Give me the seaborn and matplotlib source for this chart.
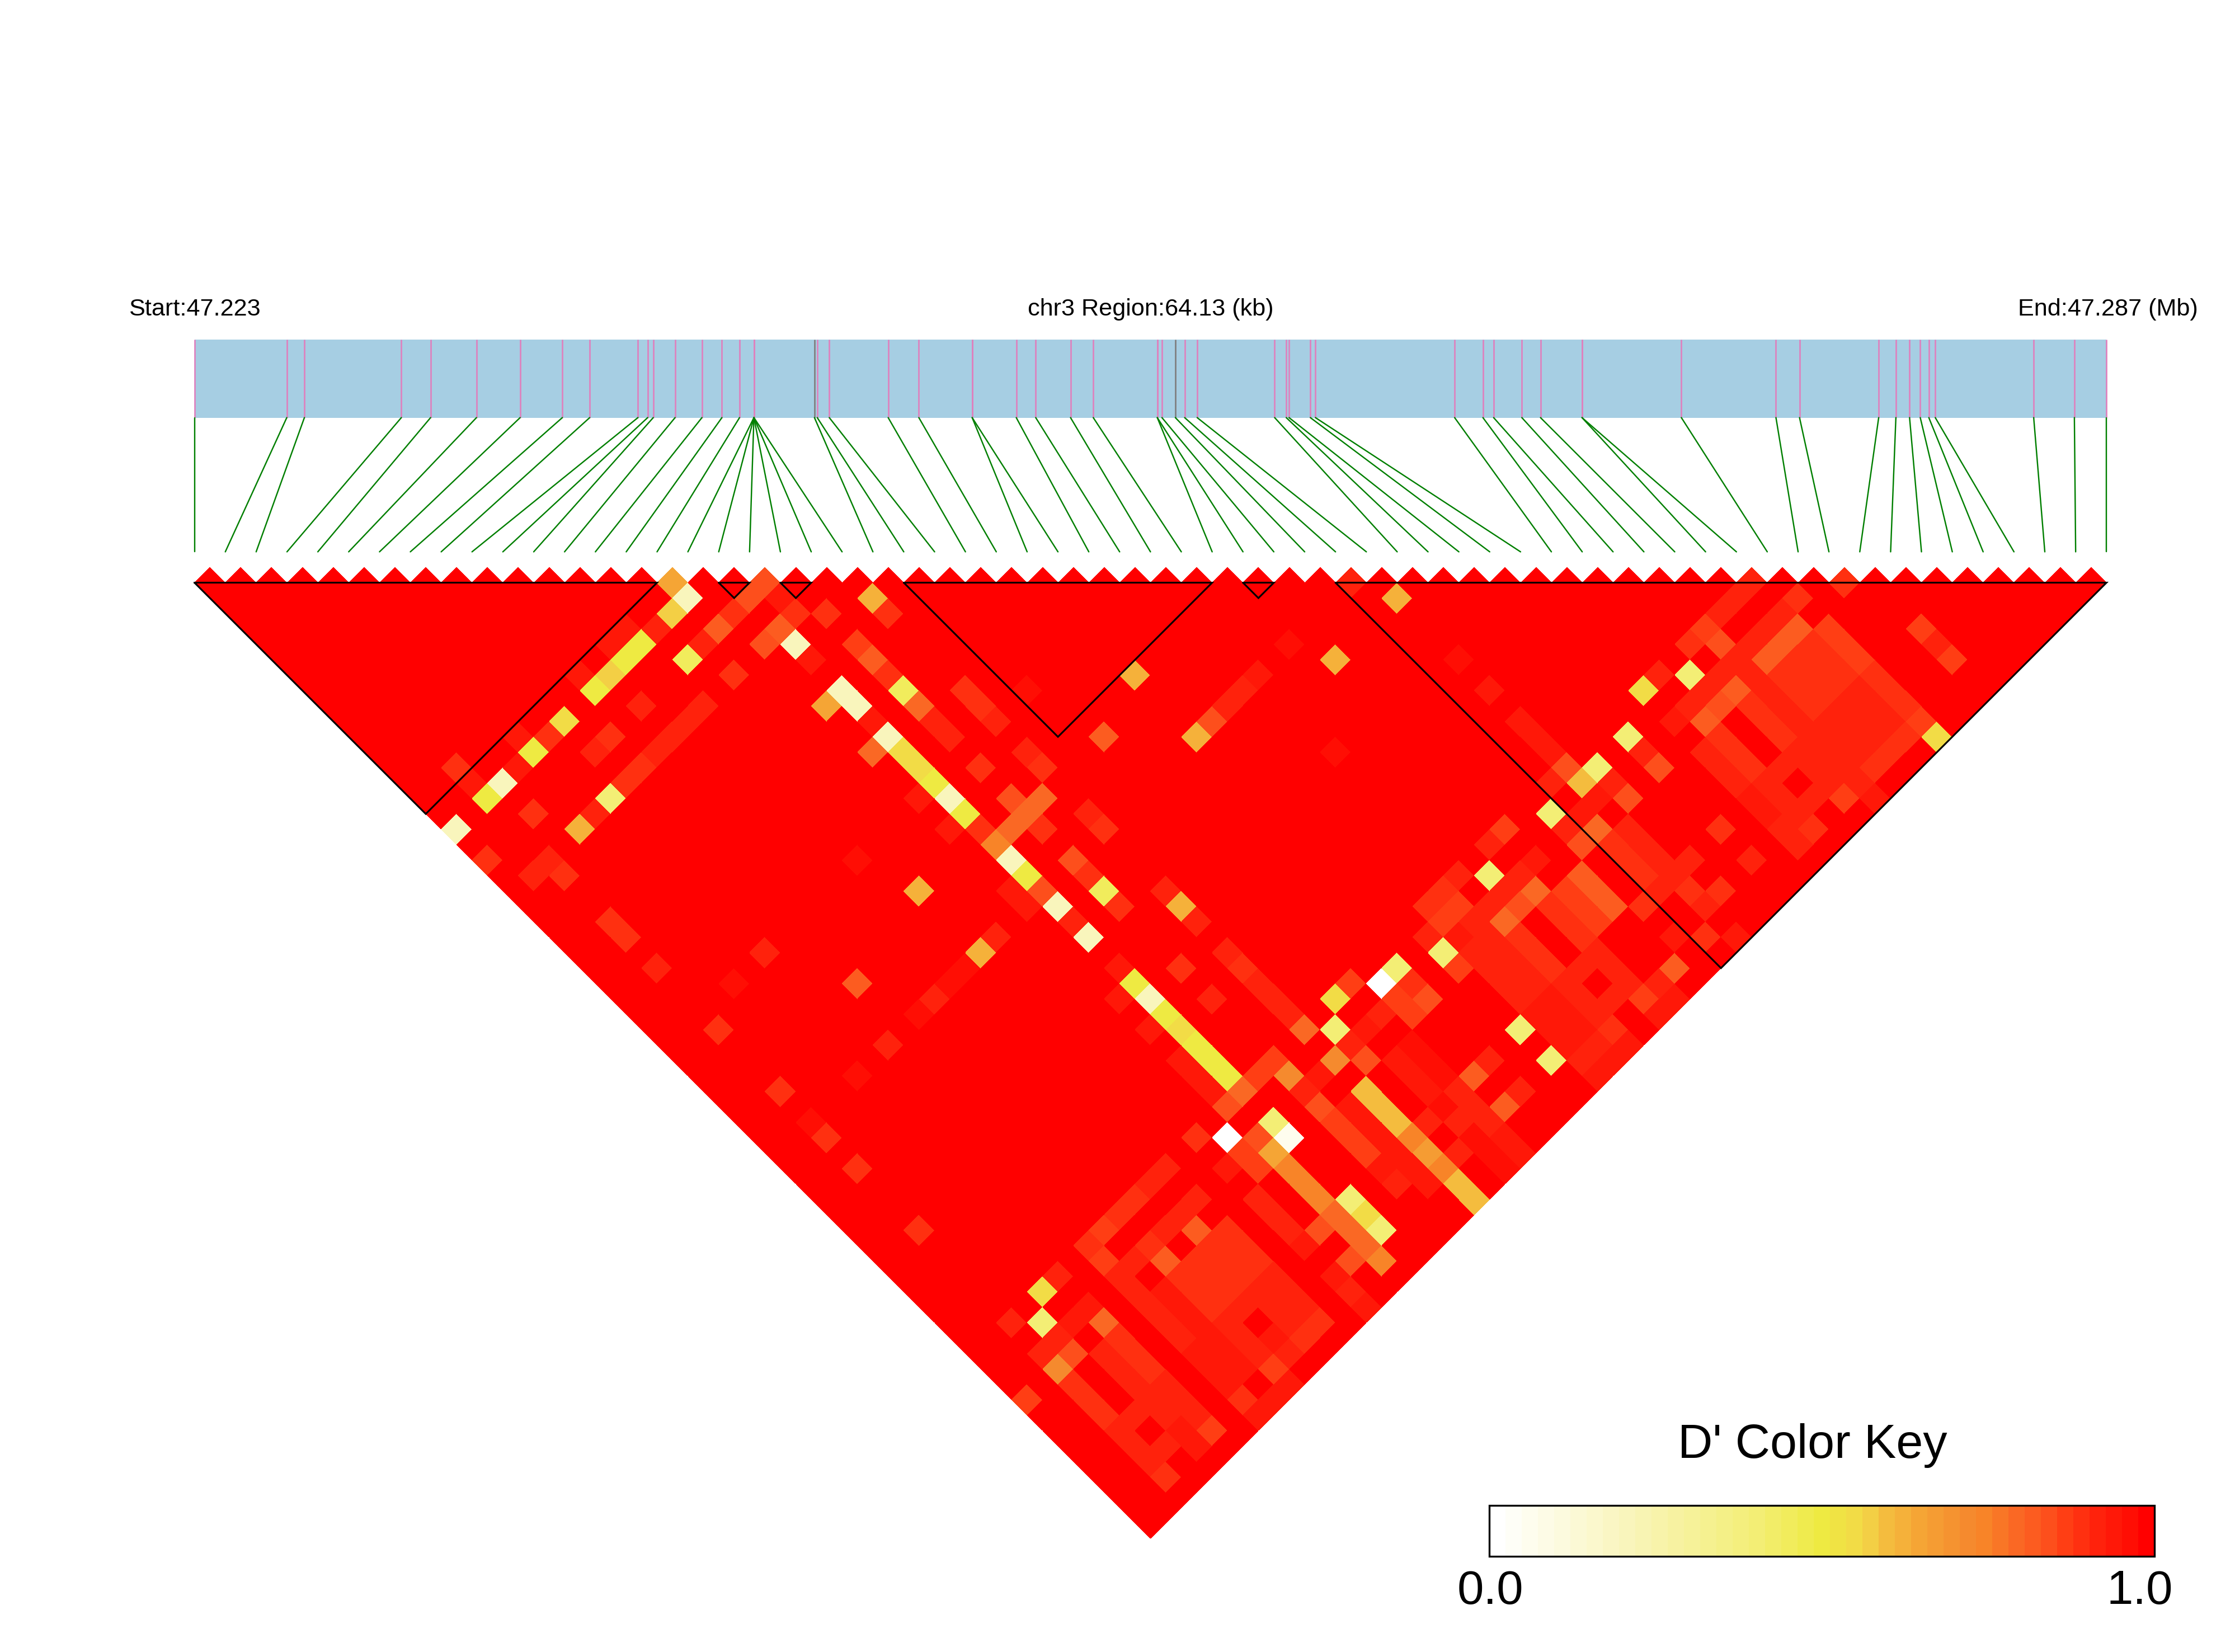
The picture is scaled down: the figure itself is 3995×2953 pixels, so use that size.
import numpy as np
import matplotlib
matplotlib.use('Agg')
import matplotlib.pyplot as plt
import seaborn as sns
from matplotlib.colors import LinearSegmentedColormap
from matplotlib.patches import Rectangle
from matplotlib.transforms import Affine2D

# SNP positions along the region, in kb from the start
snp_kb = [0, 3.096, 3.687, 6.939, 7.920, 9.459, 10.923, 12.339, 13.257, 14.874, 15.201,
          15.388, 16.120, 17.021, 17.691, 18.282, 18.764, 18.764, 18.764, 18.764, 18.764,
          18.764, 20.794, 20.888, 21.292, 23.267, 24.296, 26.084, 26.084, 27.563, 28.216,
          29.383, 30.146, 32.293, 32.293, 32.449, 32.899, 33.211, 33.631, 36.230, 36.618,
          36.712, 37.427, 37.597, 42.266, 43.215, 43.574, 44.521, 45.146, 46.538, 46.538,
          49.871, 53.044, 53.834, 56.489, 57.066, 57.525, 57.884, 58.171, 58.387, 61.688,
          63.053, 64.13]
region_kb = 64.13
grey_snps = [22, 36]

# LD blocks, first and last SNP
block_start = [0, 17, 19, 23, 34, 37]
block_end = [15, 18, 20, 33, 35, 62]

# D' values below 1, as (snp i, snp j)
dp_00 = [(25, 52), (15, 52)]
dp_06 = [(17, 54)]
dp_21 = [(15, 17), (17, 22), (17, 25), (17, 26), (17, 28), (17, 32), (3, 17), (0, 17), (17, 36),
         (17, 39), (17, 41), (17, 45)]
dp_40 = [(6, 21), (26, 52), (22, 52), (17, 53), (17, 58), (17, 60), (45, 52), (39, 52), (41, 52),
         (36, 52), (32, 52), (28, 53), (28, 58), (28, 60), (3, 52)]
dp_45 = [(13, 19), (19, 27), (19, 40)]
dp_50 = [(12, 17), (11, 17), (9, 17), (17, 31), (5, 17), (2, 17), (17, 33), (17, 37), (17, 44),
         (17, 46), (17, 48), (17, 49), (17, 50)]
dp_55 = [(17, 29), (17, 30), (7, 17), (17, 47), (23, 51), (17, 59), (43, 51), (51, 62), (4, 51)]
dp_57 = [(14, 17), (10, 17)]
dp_60 = [(21, 55), (21, 56), (21, 57), (21, 61), (21, 62), (38, 52)]
dp_62 = [(21, 23), (4, 21), (13, 34), (27, 34), (27, 38), (34, 40), (38, 40), (21, 43), (13, 38)]
dp_65 = [(15, 16), (16, 25), (16, 54)]
dp_67 = [(21, 59)]
dp_72 = [(21, 53), (19, 52), (2, 54)]
dp_75 = [(17, 35), (16, 55), (16, 56), (16, 57), (16, 61), (21, 58), (21, 60)]
dp_79 = [(19, 28), (16, 28), (20, 35), (19, 35), (18, 35), (17, 51), (21, 51), (16, 58), (16, 59),
         (37, 54), (33, 54), (31, 54), (5, 54), (16, 60)]
dp_82 = [(15, 19), (17, 21), (19, 25), (24, 35), (8, 35), (11, 54), (9, 54), (50, 54), (49, 54),
         (48, 54), (46, 54), (44, 54), (35, 55), (35, 56), (35, 57), (35, 61), (25, 58), (25, 60)]
dp_84 = [(18, 19), (17, 19), (16, 21), (28, 38), (19, 34), (17, 38), (19, 38), (16, 51), (19, 54),
         (16, 53), (15, 58), (47, 52), (45, 54), (38, 51), (39, 54), (41, 54), (36, 54), (32, 54),
         (26, 54), (15, 60), (3, 54), (22, 54)]
dp_87 = [(19, 24), (24, 51), (19, 51), (18, 51), (19, 55), (19, 56), (19, 57), (15, 53),
         (15, 54), (8, 51), (47, 51), (51, 55), (51, 56), (51, 57), (51, 61), (54, 58), (54, 60),
         (46, 61), (34, 51), (30, 52), (34, 55), (34, 56), (34, 57), (29, 52), (28, 54), (33, 61),
         (25, 53), (25, 54), (7, 52), (9, 61), (5, 61), (0, 54)]
dp_89 = [(6, 17), (16, 19), (18, 21), (19, 22), (14, 21), (21, 24), (19, 26), (2, 15), (0, 19),
         (3, 19), (2, 22), (7, 21), (8, 21), (8, 19), (21, 29), (21, 30), (17, 34), (19, 32),
         (21, 34), (19, 36), (21, 38), (19, 39), (19, 41), (2, 41), (19, 45), (21, 47), (14, 51),
         (10, 51), (9, 51), (2, 45), (46, 51), (51, 53), (53, 54), (50, 55), (49, 55), (50, 56),
         (48, 55), (49, 56), (50, 57), (48, 56), (49, 57), (48, 57), (51, 58), (51, 59), (51, 60),
         (50, 61), (49, 61), (48, 61), (44, 61), (44, 55), (44, 56), (44, 57), (46, 55), (46, 56),
         (46, 57), (37, 55), (37, 56), (37, 57), (41, 58), (38, 59), (39, 60), (30, 51), (29, 51),
         (33, 55), (33, 56), (33, 57), (31, 55), (31, 56), (31, 57), (36, 58), (37, 61), (31, 61),
         (26, 53), (7, 51), (9, 53), (12, 55), (12, 56), (12, 57), (11, 55), (11, 56), (11, 57),
         (9, 55), (9, 56), (9, 57), (10, 55), (10, 56), (10, 57), (11, 61), (12, 61), (7, 61),
         (5, 55), (5, 56), (5, 57), (2, 55), (2, 56), (2, 57), (2, 61), (2, 25), (2, 26), (2, 32),
         (2, 36), (2, 39)]
dp_92 = [(13, 17), (14, 19), (19, 29), (19, 30), (1, 21), (2, 21), (5, 21), (9, 21), (10, 21),
         (11, 21), (12, 21), (7, 19), (10, 19), (21, 31), (29, 38), (30, 38), (37, 38), (21, 33),
         (21, 37), (21, 42), (17, 40), (21, 44), (14, 38), (10, 38), (7, 38), (19, 47), (21, 46),
         (21, 48), (21, 49), (21, 50), (22, 53), (24, 53), (19, 53), (12, 51), (11, 51), (12, 53),
         (11, 53), (10, 53), (14, 55), (14, 56), (14, 57), (19, 59), (50, 51), (49, 51),
         (48, 51), (44, 51), (50, 53), (49, 53), (48, 53), (47, 53), (46, 53), (45, 53), (44, 53),
         (50, 58), (49, 58), (50, 59), (48, 58), (49, 59), (50, 60), (48, 59), (49, 60), (48, 60),
         (54, 59), (46, 58), (45, 58), (46, 59), (44, 58), (46, 60), (44, 59), (45, 60), (44, 60),
         (47, 58), (47, 59), (47, 60), (47, 61), (43, 61), (43, 60), (43, 55), (43, 56), (43, 57),
         (47, 55), (47, 56), (47, 57), (47, 54), (37, 51), (39, 53), (41, 53), (36, 53), (38, 55),
         (38, 56), (38, 57), (39, 58), (38, 58), (37, 58), (41, 60), (38, 60), (33, 51), (31, 51),
         (33, 53), (32, 53), (31, 53), (28, 52), (30, 53), (30, 54), (30, 55), (30, 56), (30, 57),
         (29, 54), (29, 55), (29, 56), (29, 57), (33, 58), (32, 58), (33, 59), (31, 58), (33, 60),
         (31, 59), (32, 60), (31, 60), (34, 61), (30, 61), (29, 61), (26, 58), (26, 60), (24, 58),
         (24, 59), (24, 60), (23, 59), (22, 58), (22, 60), (8, 53), (7, 53), (7, 54), (7, 55),
         (7, 56), (7, 57), (10, 58), (9, 58), (9, 59), (9, 60), (10, 61), (12, 58), (12, 59),
         (12, 60), (11, 58), (11, 59), (11, 60), (14, 61), (5, 51), (2, 51), (2, 53), (3, 53),
         (4, 55), (4, 56), (4, 57), (4, 58), (3, 58), (4, 59), (2, 58), (2, 59), (3, 60), (2, 60),
         (5, 58), (5, 59), (5, 60), (2, 28), (6, 31)]
dp_94 = [(12, 16), (11, 16), (9, 16), (18, 20), (17, 23), (17, 27), (16, 31), (16, 33), (5, 16),
         (4, 17), (2, 16), (31, 38), (16, 37), (16, 38), (17, 43), (16, 44), (16, 46), (16, 48),
         (16, 49), (16, 50), (23, 53), (20, 53), (14, 53), (20, 55), (20, 56), (20, 57), (20, 58),
         (20, 59), (20, 60), (19, 58), (43, 53), (47, 62), (43, 58), (43, 59), (38, 46), (38, 48),
         (38, 49), (38, 50), (38, 53), (37, 53), (34, 53), (29, 53), (29, 58), (29, 59), (29, 60),
         (30, 58), (30, 59), (30, 60), (36, 60), (38, 62), (34, 62), (33, 62), (31, 62), (30, 62),
         (29, 62), (23, 55), (23, 56), (23, 57), (24, 61), (24, 62), (8, 55), (8, 56), (8, 57),
         (10, 60), (8, 58), (8, 59), (8, 60), (7, 58), (7, 59), (7, 60), (9, 62), (8, 62), (7, 62),
         (14, 58), (14, 60), (14, 62), (4, 53), (5, 53), (4, 60), (4, 61)]
dp_96 = [(12, 31), (23, 31), (33, 38), (31, 43), (12, 38), (11, 38), (9, 38), (5, 38), (38, 44),
         (23, 58), (23, 60), (23, 61), (23, 62), (24, 55), (24, 56), (24, 57), (4, 31), (2, 38)]

levels = [0.0, 0.06, 0.21, 0.40, 0.45, 0.50, 0.55, 0.57, 0.60, 0.62, 0.65, 0.67, 0.72, 0.75,
          0.79, 0.82, 0.84, 0.87, 0.89, 0.92, 0.94, 0.96]
level_pairs = [dp_00, dp_06, dp_21, dp_40, dp_45, dp_50, dp_55, dp_57, dp_60, dp_62, dp_65, dp_67,
               dp_72, dp_75, dp_79, dp_82, dp_84, dp_87, dp_89, dp_92, dp_94, dp_96]

# colour key, same look as the original LD plot
key_colors = [(0.0, '#FFFFFF'), (0.2, '#F9F5BC'), (0.4, '#F3EE75'), (0.5, '#EEEA42'),
              (0.55, '#F2DC46'), (0.575, '#F3CF45'), (0.6, '#F4BC3E'), (0.65, '#F5A535'),
              (0.725, '#F58A2E'), (0.75, '#F88428'), (0.8, '#FA6824'), (0.85, '#FD4F1C'),
              (0.875, '#FF3E14'), (0.9, '#FF3010'), (0.925, '#FF220C'), (0.95, '#FF1808'),
              (0.975, '#FF0E04'), (1.0, '#FF0000')]
cmap = LinearSegmentedColormap.from_list('dprime', key_colors, N=41)

n_snps = len(snp_kb)
matrix = np.ones((n_snps - 1, n_snps - 1))
for value, pairs in zip(levels, level_pairs):
    for i, j in pairs:
        matrix[i, j - 1] = value
mask = np.tril(np.ones_like(matrix, dtype=bool), k=-1)

W, H = 3995, 2953
X0, X1 = 347.6, 3765.3
STEP = (X1 - X0) / (n_snps - 1)
TOP = 1041.5
BAR_TOP, BAR_BOTTOM, LINE_END = 607, 746.5, 986.4

sns.set_theme(style='white')
plt.rcParams['font.family'] = ['Liberation Sans', 'DejaVu Sans']

fig = plt.figure(figsize=(W / 300, H / 300), dpi=300, facecolor='white')
ax = fig.add_axes([0, 0, 1, 1])
cax = fig.add_axes([2661.6 / W, 1 - 2782 / H, (3851 - 2661.6) / W, 91 / H])

sns.heatmap(matrix, mask=mask, vmin=0, vmax=1, cmap=cmap, ax=ax, cbar_ax=cax,
            xticklabels=False, yticklabels=False,
            cbar_kws={'orientation': 'horizontal', 'ticks': [0.002, 0.978]})

# turn the heatmap by 45 degrees so the SNP diagonal lies along the top
half = STEP / 2
turn = Affine2D(np.array([[half, half, X0], [half, -half, TOP], [0, 0, 1]]))
mesh = ax.collections[0]
mesh.set_transform(turn + ax.transData)

ax.set_xlim(0, W)
ax.set_ylim(H, 0)
ax.axis('off')

# LD blocks
for a, b in zip(block_start, block_end):
    xs = [X0 + a * STEP, X0 + b * STEP, X0 + (a + b) / 2 * STEP, X0 + a * STEP]
    ys = [TOP, TOP, TOP + (b - a) * half, TOP]
    ax.plot(xs, ys, color='black', lw=0.75, solid_joinstyle='miter', zorder=5)

# gene bar with SNP ticks and the lines down to the map
snp_x = X0 + np.array(snp_kb) / region_kb * (X1 - X0)
ax.add_patch(Rectangle((X0, BAR_TOP), X1 - X0, BAR_BOTTOM - BAR_TOP, facecolor='#A6CEE3',
                       edgecolor='none', zorder=2))
tick_colors = ['#7F7F7F' if k in grey_snps else '#DE82BE' for k in range(n_snps)]
ax.vlines(snp_x, BAR_TOP, BAR_BOTTOM, colors=tick_colors, lw=0.65, zorder=3)
for k, x in enumerate(snp_x):
    ax.plot([x, X0 + k * STEP], [BAR_BOTTOM, LINE_END], color='#007F00', lw=0.58, zorder=3)

ax.text(X0, 564, 'Start:47.223', ha='center', va='baseline', fontsize=10.4, color='black')
ax.text((X0 + X1) / 2, 564, 'chr3 Region:64.13 (kb)', ha='center', va='baseline', fontsize=10.4,
        color='black')
ax.text(X1 + 3, 564, 'End:47.287 (Mb)', ha='center', va='baseline', fontsize=10.4, color='black')
ax.text(3240, 2606, "D' Color Key", ha='center', va='baseline', fontsize=20.7, color='black')

# colour key
cax.set_xticklabels(['0.0', '1.0'], fontsize=20.5, color='black')
cax.tick_params(axis='x', length=0, pad=5.5)
mesh.colorbar.outline.set_edgecolor('black')
mesh.colorbar.outline.set_linewidth(0.8)

fig.savefig('out.png', dpi=300, facecolor='white')
